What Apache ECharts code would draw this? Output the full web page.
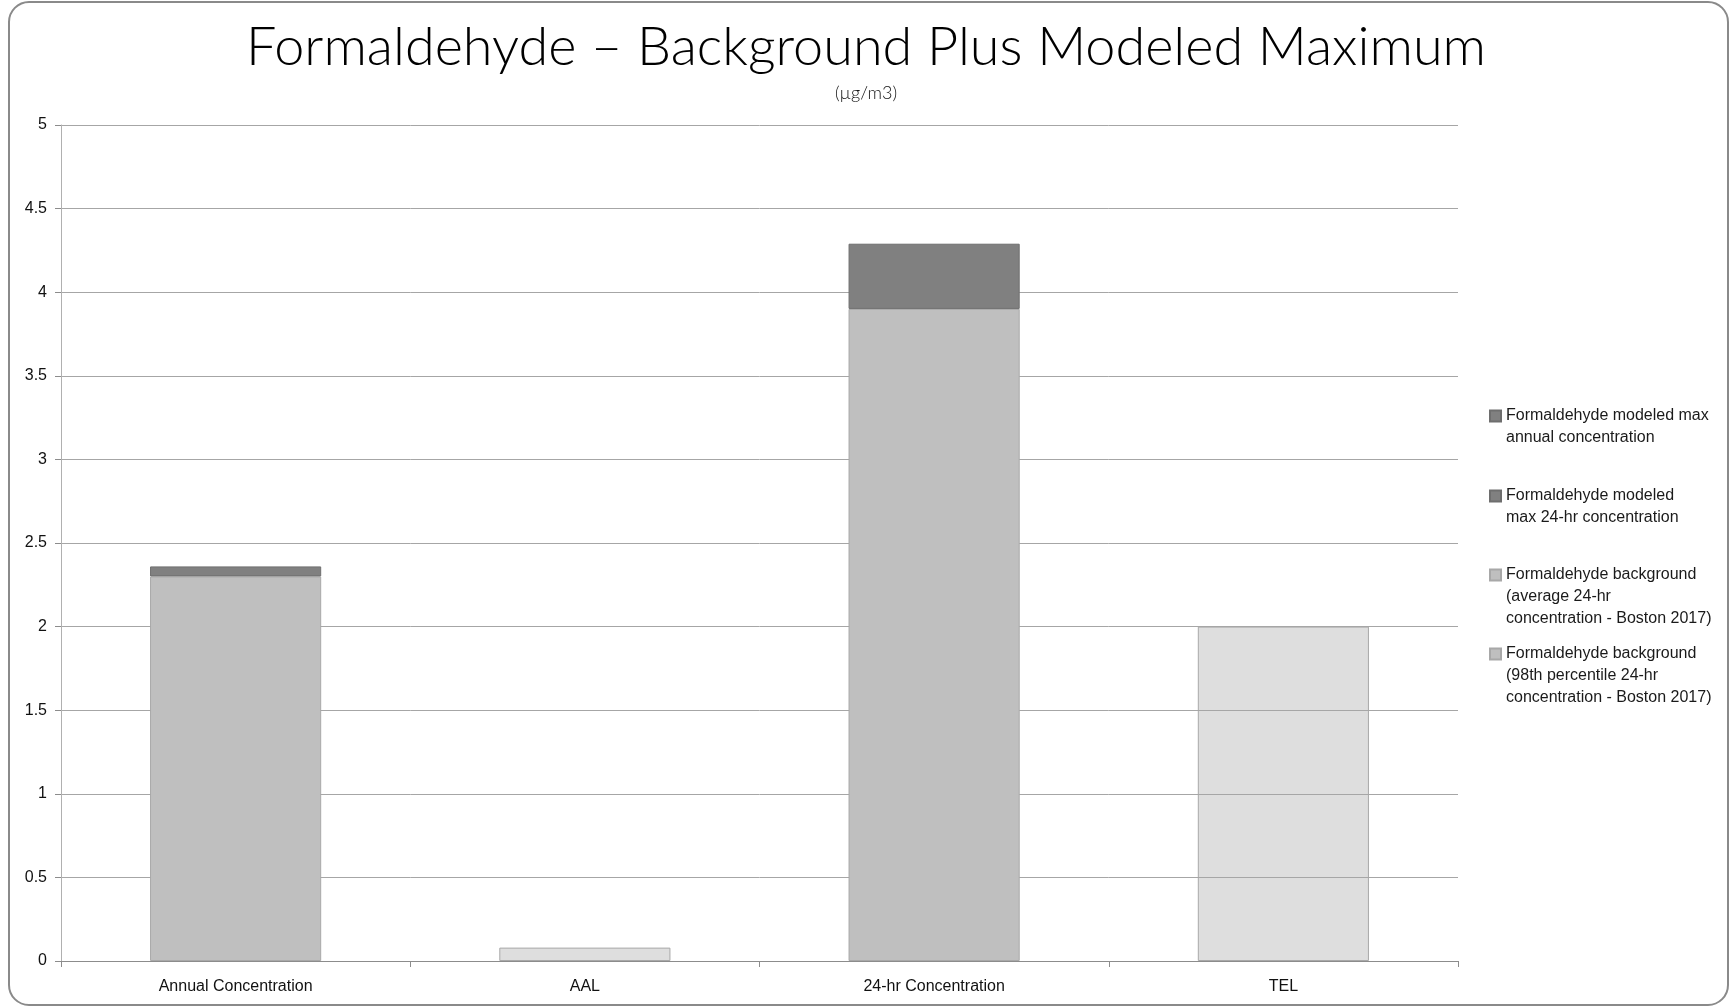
<!DOCTYPE html>
<html><head><meta charset="utf-8">
<script src="https://cdn.jsdelivr.net/npm/echarts@6/dist/echarts.min.js"></script>
<style>html,body{margin:0;padding:0;background:#fff}#c{width:1732px;height:1008px}</style>
</head><body><div id="c"></div>
<script>
var categories = ['Annual Concentration', 'AAL', '24-hr Concentration', 'TEL'];
var bgAverage = [2.3, '-', '-', '-'];
var bg98th = ['-', '-', 3.9, '-'];
var modeledAnnual = [0.06, '-', '-', '-'];
var modeled24hr = ['-', '-', 0.39, '-'];
var guideline = ['-', 0.08, '-', 2.0];
var yTicks = [0, 0.5, 1, 1.5, 2, 2.5, 3, 3.5, 4, 4.5, 5];
var names = {
  mAnnual: 'Formaldehyde modeled max\nannual concentration',
  m24: 'Formaldehyde modeled\nmax 24-hr concentration',
  bgAvg: 'Formaldehyde background\n(average 24-hr\nconcentration - Boston 2017)',
  bg98: 'Formaldehyde background\n(98th percentile 24-hr\nconcentration - Boston 2017)'
};

var chart = echarts.init(document.getElementById('c'));
var font = 'Liberation Sans, Arial, sans-serif';
var LH = 22;
function legendAt(name, top, lines) {
  var h = LH * lines;
  var sq = (LH - 11) / 2;
  var icon = 'path://M0,' + sq + 'h11v11h-11z M0,0L0,0 M0,' + h + 'L0,' + h;
  return {
    data: [{ name: name, icon: icon }], orient: 'vertical', left: 1489, top: top,
    padding: 0, itemWidth: 11, itemHeight: h, itemGap: 0, selectedMode: false,
    symbolKeepAspect: false,
    textStyle: { fontFamily: font, fontSize: 16, color: '#1a1a1a', lineHeight: LH }
  };
}
var darkStyle = { color: '#808080', borderColor: '#6e6e6e', borderWidth: 1 };
var midStyle = { color: '#bfbfbf', borderColor: '#a8a8a8', borderWidth: 1 };
chart.setOption({
  animation: false,
  backgroundColor: '#fff',
  title: [
    { text: 'Formaldehyde – Background Plus Modeled Maximum', left: 'center', top: 16,
      textStyle: { fontFamily: 'Lato', fontWeight: 300, fontSize: 54, color: '#000' } },
    { text: '(µg/m3)', left: 'center', top: 79,
      textStyle: { fontFamily: 'Lato', fontWeight: 300, fontSize: 18, color: '#111' } }
  ],
  legend: [
    legendAt(names.mAnnual, 404, 2),
    legendAt(names.m24, 484, 2),
    legendAt(names.bgAvg, 563, 3),
    legendAt(names.bg98, 642, 3)
  ],
  grid: { left: 61, right: 274, top: 125, bottom: 47, containLabel: false, z: 3 },
  xAxis: {
    type: 'category', data: categories, z: 6,
    axisLine: { lineStyle: { color: '#8c8c8c', width: 1 } },
    axisTick: { show: true, alignWithLabel: false, length: 6, lineStyle: { color: '#8c8c8c' } },
    axisLabel: { fontFamily: font, fontSize: 16, color: '#111', margin: 18 }
  },
  yAxis: {
    type: 'value', min: 0, max: 5, interval: 0.5, z: 3,
    axisLine: { show: true, lineStyle: { color: '#b0b0b0', width: 1 } },
    axisTick: { show: true, length: 6, lineStyle: { color: '#8c8c8c' } },
    splitLine: { lineStyle: { color: '#a6a6a6', width: 1 } },
    axisLabel: { fontFamily: font, fontSize: 16, color: '#111', margin: 14,
      formatter: function (v) { return String(v); } }
  },
  series: [
    { name: names.bgAvg, type: 'bar', stack: 'a', z: 4, data: bgAverage, barWidth: '49%', itemStyle: midStyle },
    { name: names.bg98, type: 'bar', stack: 'a', z: 4, data: bg98th, barWidth: '49%', itemStyle: midStyle },
    { name: names.mAnnual, type: 'bar', stack: 'a', z: 4, data: modeledAnnual, barWidth: '49%', itemStyle: darkStyle },
    { name: names.m24, type: 'bar', stack: 'a', z: 4, data: modeled24hr, barWidth: '49%', itemStyle: darkStyle },
    { name: 'Guideline', type: 'bar', stack: 'a', z: 1, data: guideline, barWidth: '49%',
      itemStyle: { color: 'rgba(200,200,200,0.6)', borderColor: '#a8a8a8', borderWidth: 1 } }
  ],
  graphic: [
    { type: 'rect', z: 100, silent: true,
      shape: { x: 9, y: 2, width: 1719, height: 1003, r: 20 },
      style: { fill: 'none', stroke: '#8a8a8a', lineWidth: 2 } }
  ]
});
</script></body></html>
